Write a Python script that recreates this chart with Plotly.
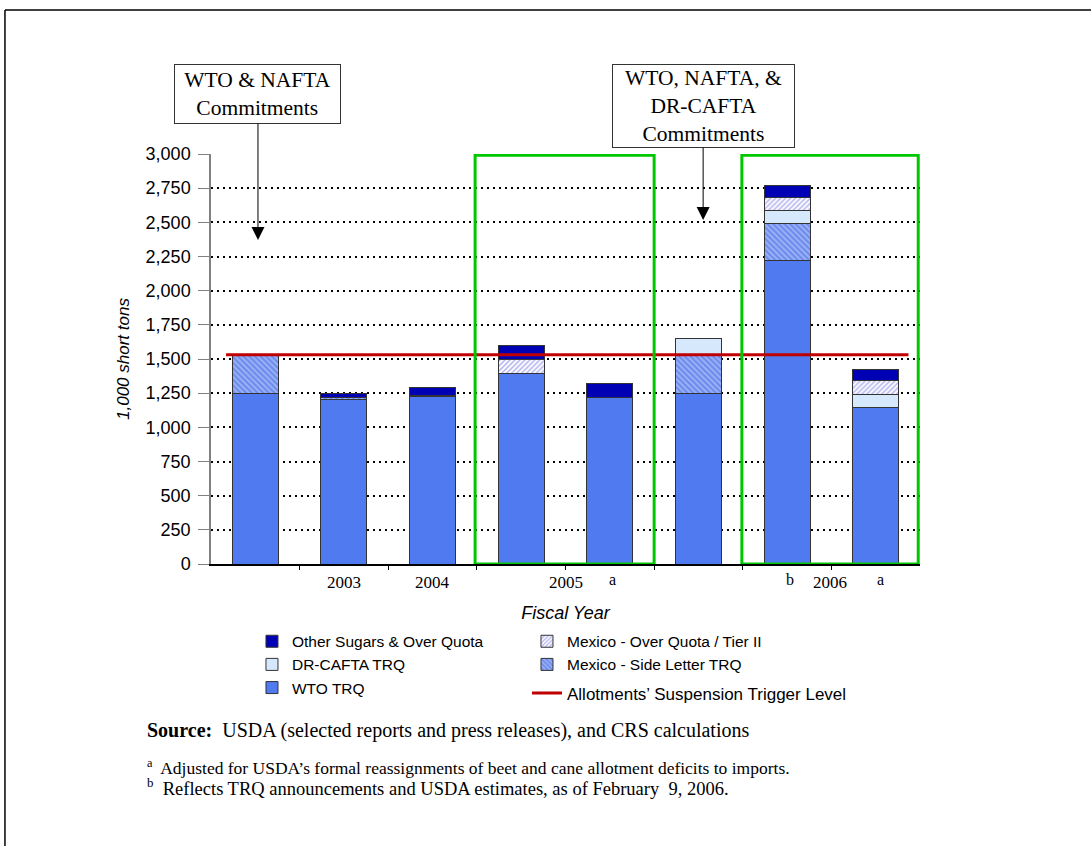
import plotly.graph_objects as go

# ---------------- data ----------------
bar_keys = ["Commitments (WTO & NAFTA)", "FY2003", "FY2004", "FY2005", "FY2005 (a)",
            "Commitments (WTO, NAFTA & DR-CAFTA)", "FY2006 (b)", "FY2006 (a)"]
wto_trq = [1250, 1207, 1226, 1392, 1217, 1250, 2220, 1148]
mexico_side_letter = [280, 8, 10, None, None, 277, 270, None]
dr_cafta_trq = [None, None, None, None, None, 125, 95, 93]
mexico_over_quota = [None, None, None, 108, None, None, 100, 105]
other_sugars = [None, 35, 55, 102, 105, None, 85, 76]

trigger_level = 1532
trigger_span = [-0.33, 7.37]

year_labels = ["2003", "2004", "2005", "2006"]
year_label_pos = [1, 2, 3.5, 6.48]
note_labels = ["a", "b", "a"]
note_label_pos = [4.03, 6.03, 7.05]

y_ticks = list(range(0, 3001, 250))

green_boxes = [(2.48, 4.5), (5.49, 7.48)]
green_box_top = 2990

commit_texts = ["WTO & NAFTA<br>Commitments", "WTO, NAFTA, &<br>DR-CAFTA<br>Commitments"]
commit_tips = [(0.03, 2371), (5.053, 2517)]

# ---------------- figure ----------------
xs = list(range(len(bar_keys)))
SERIF = "Liberation Serif"
SANS = "Liberation Sans"
edge = dict(color="#333333", width=1)
bw = 0.52

fig = go.Figure()
fig.add_trace(go.Bar(x=xs, y=wto_trq, name="WTO TRQ", width=bw, customdata=bar_keys,
                     marker=dict(color="#4F7AF0", line=edge), legendrank=5))
fig.add_trace(go.Bar(x=xs, y=mexico_side_letter, name="Mexico - Side Letter TRQ", width=bw,
                     customdata=bar_keys,
                     marker=dict(color="#8FA8F4", line=edge,
                                 pattern=dict(shape="\\", fgcolor="#3A5FE0", bgcolor="#9BB2F6",
                                              size=4, solidity=0.5)), legendrank=4))
fig.add_trace(go.Bar(x=xs, y=dr_cafta_trq, name="DR-CAFTA TRQ", width=bw, customdata=bar_keys,
                     marker=dict(color="#D6E8FC", line=edge), legendrank=3))
fig.add_trace(go.Bar(x=xs, y=mexico_over_quota, name="Mexico - Over Quota / Tier II", width=bw,
                     customdata=bar_keys,
                     marker=dict(color="#E6E6FA", line=edge,
                                 pattern=dict(shape="/", fgcolor="#6A6AE0", bgcolor="#FFFFFF",
                                              size=3.5, solidity=0.45)), legendrank=2))
fig.add_trace(go.Bar(x=xs, y=other_sugars, name="Other Sugars & Over Quota", width=bw,
                     customdata=bar_keys,
                     marker=dict(color="#0000B4", line=edge), legendrank=1))
fig.add_trace(go.Scatter(x=trigger_span, y=[trigger_level, trigger_level], mode="lines",
                         name="Allotments’ Suspension Trigger Level", legend="legend2",
                         line=dict(color="#C00000", width=3)))

# green highlight boxes
for x0, x1 in green_boxes:
    fig.add_shape(type="rect", xref="x", yref="y", x0=x0, x1=x1, y0=0, y1=green_box_top,
                  line=dict(color="#00C800", width=3), fillcolor="rgba(0,0,0,0)", layer="above")

# outer frame (top and left edges)
fig.add_shape(type="line", xref="paper", yref="paper", x0=-0.2906, x1=1.3, y0=1.351, y1=1.351,
              line=dict(color="black", width=1.5))
fig.add_shape(type="line", xref="paper", yref="paper", x0=-0.2906, x1=-0.2906, y0=1.351, y1=-0.75,
              line=dict(color="black", width=1.5))

annotations = []
# commitments call-outs with arrows
box_sizes = [(163, 56), (179, 80)]
for txt, (tx, ty), (w, h), ay in zip(commit_texts, commit_tips, box_sizes, [-146, -114]):
    annotations.append(dict(x=tx, y=ty, xref="x", yref="y", text=txt, showarrow=True,
                            ax=0, ay=ay, arrowhead=2, arrowsize=2.6, arrowwidth=1,
                            arrowcolor="black", bordercolor="#333333", borderwidth=1,
                            borderpad=1, bgcolor="white", width=w, height=h,
                            font=dict(family=SERIF, size=21.5, color="black")))
# x category labels
for lab, pos in zip(year_labels, year_label_pos):
    annotations.append(dict(x=pos, y=-0.046, xref="x", yref="paper", text=lab, showarrow=False,
                            xanchor="center", yanchor="middle",
                            font=dict(family=SERIF, size=17, color="black")))
for lab, pos in zip(note_labels, note_label_pos):
    annotations.append(dict(x=pos, y=-0.039, xref="x", yref="paper", text=lab, showarrow=False,
                            xanchor="center", yanchor="middle",
                            font=dict(family=SERIF, size=16, color="black")))
# source & footnotes
annotations.append(dict(x=-0.0931, y=-0.407, xref="paper", yref="paper", showarrow=False,
                        xanchor="left", yanchor="middle", align="left",
                        text="<b>Source:</b>  USDA (selected reports and press releases), and CRS calculations",
                        font=dict(family=SERIF, size=20, color="black")))
annotations.append(dict(x=-0.0931, y=-0.495, xref="paper", yref="paper", showarrow=False,
                        xanchor="left", yanchor="middle", align="left",
                        text="<sup>a</sup>  Adjusted for USDA’s formal reassignments of beet and cane allotment deficits to imports.",
                        font=dict(family=SERIF, size=17.5, color="black")))
annotations.append(dict(x=-0.0931, y=-0.543, xref="paper", yref="paper", showarrow=False,
                        xanchor="left", yanchor="middle", align="left",
                        text="<sup>b</sup>  Reflects TRQ announcements and USDA estimates, as of February  9, 2006.",
                        font=dict(family=SERIF, size=18.5, color="black")))

legend_font = dict(family=SANS, size=15.5, color="black")
fig.update_layout(
    width=1091, height=846,
    margin=dict(l=211, r=171, t=154, b=282),
    paper_bgcolor="white", plot_bgcolor="white",
    barmode="stack",
    showlegend=True,
    legend=dict(orientation="h", x=0.0578, xanchor="left", y=-0.148, yanchor="top",
                entrywidth=230, entrywidthmode="pixels", traceorder="normal",
                font=legend_font, bgcolor="rgba(0,0,0,0)"),
    legend2=dict(orientation="h", x=0.4457, xanchor="left", y=-0.272, yanchor="top",
                 font=dict(family=SANS, size=17, color="black"), bgcolor="rgba(0,0,0,0)"),
    annotations=annotations,
    xaxis=dict(range=[-0.5, 7.5], showgrid=False, zeroline=False, showline=True,
               linecolor="black", linewidth=1.5, ticks="outside", ticklen=4, tickcolor="black",
               tickvals=[i + 0.5 for i in range(len(bar_keys) - 1)], showticklabels=False,
               title=dict(text="<i>Fiscal Year</i>", standoff=38,
                          font=dict(family=SANS, size=18, color="black"))),
    yaxis=dict(range=[0, 3000], tickvals=y_ticks, tickformat=",", showgrid=True,
               gridcolor="black", griddash="2px,4px", gridwidth=1.5, zeroline=False,
               showline=True, linecolor="#808080", linewidth=1.5, ticks="outside", ticklen=11,
               tickcolor="#808080", ticklabelstandoff=4,
               tickfont=dict(family=SANS, size=18, color="black"),
               title=dict(text="<i>1,000 short tons</i>", standoff=12,
                          font=dict(family=SANS, size=17, color="black"))),
)

fig.write_html("out.html", config={"displayModeBar": False},
               post_script="document.body.style.margin='0';document.body.style.overflow='hidden';")
